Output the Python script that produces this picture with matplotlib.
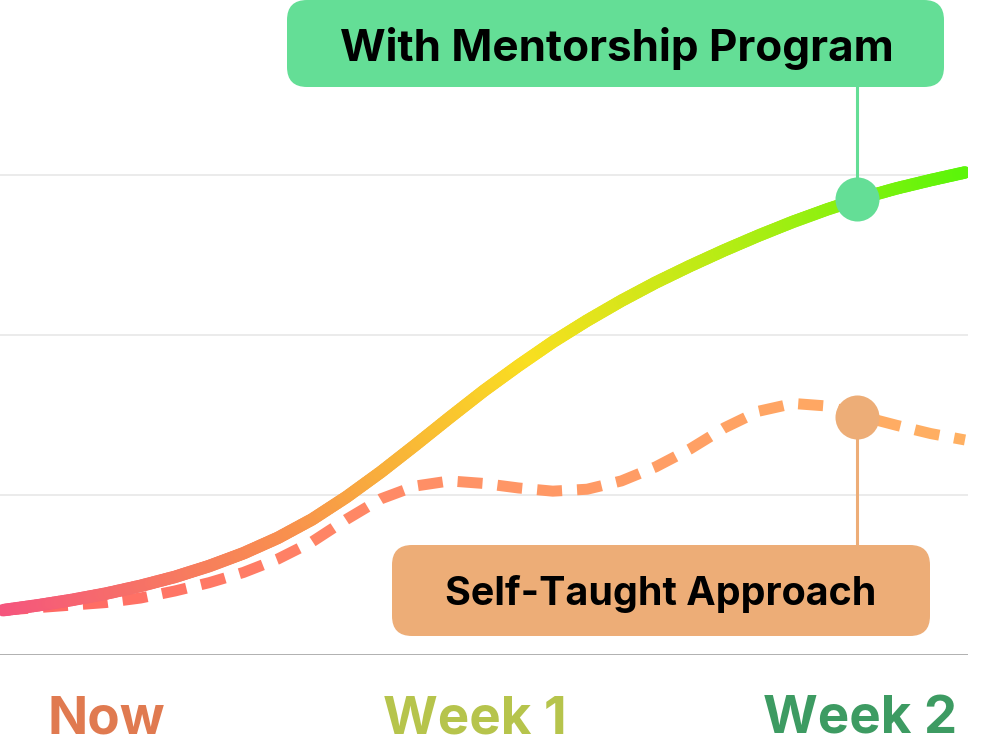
import numpy as np
import matplotlib.pyplot as plt
from matplotlib.collections import LineCollection
from matplotlib.colors import LinearSegmentedColormap
from matplotlib.patches import FancyBboxPatch, Rectangle
from matplotlib.transforms import Affine2D

plt.rcParams['font.family'] = ['Inter', 'DejaVu Sans']

# ---- data (progress score over 14 days) ----
days = np.arange(29) * 0.5
mentorship = [7.0, 7.75, 8.6, 9.6, 10.8, 12.2, 13.9, 15.9, 18.3, 21.2,
              24.7, 28.6, 32.8, 37.1, 41.3, 45.2, 48.9, 52.25, 55.35, 58.2,
              60.8, 63.25, 65.55, 67.7, 69.65, 71.4, 72.9, 74.2, 75.4]
self_taught = [7.0, 7.4, 7.8, 8.2, 8.9, 10.0, 11.3, 12.9, 15.0, 17.7,
               21.2, 24.4, 26.4, 27.2, 26.8, 26.1, 25.6, 25.9, 27.2, 29.4,
               32.2, 35.5, 38.1, 39.3, 38.9, 37.3, 35.9, 34.6, 33.6]
grid_levels = [25, 50, 75]

marker_day = 12.43
marker_mentor = 71.25
marker_self = 37.2

x_labels = ["Now", "Week 1", "Week 2"]
x_label_pos = [1.51, 6.87, 12.47]
x_label_colors = ["#E07A50", "#B6C44C", "#3D9B62"]

green = "#64DE96"
orange = "#EDAD77"

# ---- figure ----
W, H = 984, 751
fig = plt.figure(figsize=(W / 100, H / 100), dpi=100)
ax = fig.add_axes([0, 96 / H, 968 / W, 655 / H])
px_per_day = 962 / 14
ax.set_xlim(-3 / px_per_day, 14 + 3 / px_per_day)
ax.set_ylim(0, 655 / 6.4)
ax.axis('off')

# pixel transform (origin top-left)
pix = Affine2D().scale(1, -1).translate(0, H).scale(1 / 100) + fig.dpi_scale_trans

for g in grid_levels:
    ax.axhline(g, color="#E5E5E5", lw=1.1, zorder=1)
ax.axhline(0, color="#A3A3A3", lw=1.2, zorder=1)


def pieces(xd, yd, on, off):
    pts = ax.transData.transform(np.column_stack([xd, yd]))
    s = np.concatenate([[0], np.cumsum(np.hypot(*np.diff(pts, axis=0).T))])
    out = []
    start = 0.0
    while start < s[-1]:
        end = min(start + on, s[-1])
        ss = np.concatenate([[start], s[(s > start) & (s < end)], [end]])
        p = np.column_stack([np.interp(ss, s, pts[:, 0]), np.interp(ss, s, pts[:, 1])])
        out.append(ax.transData.inverted().transform(p))
        start += on + off
    return out


# dashed gradient line
dash_cmap = LinearSegmentedColormap.from_list(
    "dash", [(0, "#FF6464"), (0.5, "#FF9466"), (1, "#FFB062")])
dsegs = pieces(days, self_taught, 25, 15)
dcols = [dash_cmap(np.mean(p[:, 0]) / 14) for p in dsegs]
dlc = LineCollection(dsegs, colors=dcols, linewidths=11 * 0.72, capstyle='butt', zorder=3)
ax.add_collection(dlc)

# solid gradient line
solid_cmap = LinearSegmentedColormap.from_list(
    "solid", [(0, "#F5557E"), (0.3, "#F8904E"), (0.55, "#F9DF20"),
              (0.75, "#B8EC14"), (1, "#5CF50A")])
ssegs = pieces(days, mentorship, 3, 0)
scols = [solid_cmap(np.mean(p[:, 0]) / 14) for p in ssegs]
slc = LineCollection(ssegs, colors=scols, linewidths=12.5 * 0.72, capstyle='round', zorder=4)
slc.set_clip_path(Rectangle((0, -10), 14, 130, transform=ax.transData))
ax.add_collection(slc)

# callout boxes
inv = ax.transData.inverted()
green_box_bottom = inv.transform(pix.transform((0, 87)))[1]
orange_box_top = inv.transform(pix.transform((0, 545)))[1]

ax.plot([marker_day, marker_day], [marker_mentor, green_box_bottom],
        color=green, lw=2.2, zorder=5, clip_on=False)
ax.plot([marker_day, marker_day], [marker_self, orange_box_top],
        color=orange, lw=2.2, zorder=5, clip_on=False)
ax.plot(marker_day, marker_mentor, 'o', ms=31.7, color=green, mec='none', zorder=6)
ax.plot(marker_day, marker_self, 'o', ms=31.7, color=orange, mec='none', zorder=6)

fig.patches.append(FancyBboxPatch((287, 0), 657, 87, boxstyle="round,pad=0,rounding_size=20",
                                  transform=pix, facecolor=green, edgecolor='none'))
fig.patches.append(FancyBboxPatch((392, 545), 538, 91, boxstyle="round,pad=0,rounding_size=20",
                                  transform=pix, facecolor=orange, edgecolor='none'))
fig.text(616.5, 61, "With Mentorship Program", transform=pix, ha='center', va='baseline',
         fontsize=31.7, fontweight='bold', color='black')
fig.text(660.5, 605, "Self-Taught Approach", transform=pix, ha='center', va='baseline',
         fontsize=28.4, fontweight='bold', color='black')

# timeline labels
for pos, lab, col in zip(x_label_pos, x_labels, x_label_colors):
    ax.text(pos, -79 / 6.4, lab, ha='center', va='baseline', fontsize=38,
            fontweight='bold', color=col, clip_on=False)

fig.savefig("out.png", dpi=100)
